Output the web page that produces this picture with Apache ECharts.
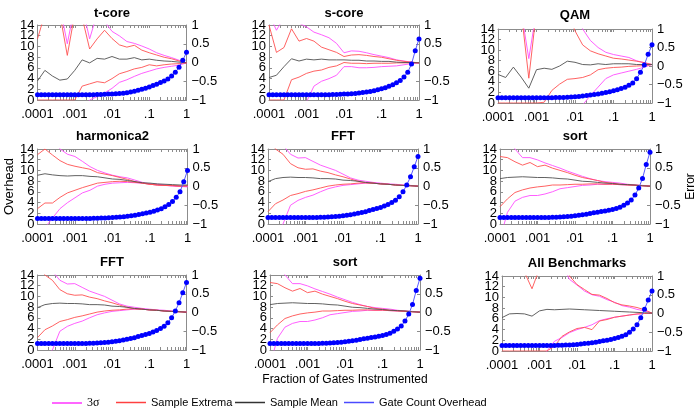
<!DOCTYPE html>
<html><head><meta charset="utf-8">
<script src="https://cdn.jsdelivr.net/npm/echarts@6/dist/echarts.min.js"></script>
<style>html,body{margin:0;padding:0;background:#fff}#c{width:695px;height:410px}</style>
</head><body><div id="c"></div><script>
// ---- x positions (fraction of gates instrumented) ----
const fractions41 = [0.0001,0.000126,0.000158,0.0002,0.000251,0.000316,0.000398,0.000501,0.000631,0.000794,
  0.001,0.00126,0.00158,0.002,0.00251,0.00316,0.00398,0.00501,0.00631,0.00794,
  0.01,0.0126,0.0158,0.02,0.0251,0.0316,0.0398,0.0501,0.0631,0.0794,
  0.1,0.126,0.158,0.2,0.251,0.316,0.398,0.501,0.631,0.794,1];
const fractions21 = [0.0001,0.000158,0.000251,0.000398,0.000631,0.001,0.00158,0.00251,0.00398,0.00631,
  0.01,0.0158,0.0251,0.0398,0.0631,0.1,0.158,0.251,0.398,0.631,1];
const xMajorTicks = [0.0001,0.001,0.01,0.1,1];
const xTickLabels = ['.0001','.001','.01','.1','1'];
const xTickValues = [0.0001,0.0002,0.0003,0.0004,0.0005,0.0006,0.0007,0.0008,0.0009,0.001,0.002,0.003,0.004,0.005,0.006,0.007,0.008,0.009,0.01,0.02,0.03,0.04,0.05,0.06,0.07,0.08,0.09,0.1,0.2,0.3,0.4,0.5,0.6,0.7,0.8,0.9,1];
const overheadTicksA = [0,4,8,12];
const overheadTicksB = [2,6,10,14];
const errorTicks = [-1,-0.5,0,0.5,1];

// ---- t-core ----
const tcoreOverhead = [1,1,1,1,1,1,1,1,1,1,1,1,1,1,1,1,1.05,1.05,1.08,1.1,1.12,1.15,1.2,1.28,1.37,1.48,1.62,1.8,2.0,2.2,2.45,2.7,2.95,3.25,3.55,3.9,4.5,5.2,6.1,7.4,8.9];
const tcoreMean  = [-0.49,-0.21,-0.36,-0.47,-0.44,-0.21,0.07,-0.01,0.11,0.09,0.16,0.09,0.09,0.13,0.07,0.09,0.06,0.04,0.03,0.01,-0.01];
const tcoreExtHi = [0.63,1.3,1.2,1.3,0.19,1.3,1.2,0.36,0.63,0.86,0.64,0.47,0.41,0.46,0.33,0.26,0.20,0.14,0.10,0.04,-0.01];
const tcoreExtLo = [-1,-1,-1,-1,-1,-1,-0.63,-0.57,-0.51,-0.54,-0.43,-0.30,-0.24,-0.17,-0.13,-0.06,-0.09,-0.06,-0.04,-0.03,-0.01];
const tcoreSigHi = [1.5,1.5,1.5,1.5,0.5,1.5,1.5,0.63,1.3,1.1,0.83,0.71,0.56,0.51,0.44,0.36,0.26,0.19,0.13,0.06,-0.01];
const tcoreSigLo = [-1.3,-1.3,-1.3,-1.3,-1.3,-1.3,-1.3,-1.0,-0.91,-0.81,-0.69,-0.53,-0.46,-0.37,-0.29,-0.23,-0.17,-0.13,-0.10,-0.07,-0.01];

// ---- s-core ----
const scoreOverhead = [1,1,1,1,1,1,1,1,1,1,1,1,1,1,1,1,1,1.02,1.05,1.08,1.1,1.13,1.17,1.22,1.3,1.38,1.48,1.6,1.75,1.9,2.1,2.3,2.55,2.85,3.2,3.65,4.3,5.2,6.7,9.2,11.4];
const scoreMean  = [-0.40,-0.34,-0.11,0.10,0.04,0.09,0.07,0.09,0.07,0.07,0.07,0.06,0.06,0.04,0.04,0.03,0.03,0.01,0.0,0.0,-0.01];
const scoreExtHi = [1.0,0.27,0.40,0.90,0.57,0.64,0.57,0.41,0.34,0.27,0.16,0.20,0.21,0.19,0.16,0.14,0.10,0.06,0.03,0.01,-0.01];
const scoreExtLo = [-1,-1,-1,-0.46,-0.39,-0.29,-0.23,-0.20,-0.13,-0.09,0.0,-0.02,-0.02,-0.03,-0.02,-0.02,-0.02,-0.01,-0.01,-0.01,-0.01];
const scoreSigHi = [1.3,0.86,1.2,1.1,1.05,0.95,0.81,0.74,0.66,0.51,0.26,0.31,0.30,0.26,0.21,0.17,0.13,0.07,0.04,0.01,-0.01];
const scoreSigLo = [-1.3,-1.3,-1.3,-1.3,-1.3,-1.05,-0.63,-0.50,-0.43,-0.34,-0.11,-0.11,-0.14,-0.14,-0.13,-0.11,-0.10,-0.09,-0.06,-0.03,-0.01];

// ---- QAM ----
const qamOverhead = [1,1,1,1,1,1,1,1,1,1,1,1,1,1,1,1.02,1.03,1.05,1.08,1.12,1.18,1.25,1.32,1.4,1.5,1.6,1.72,1.85,2.0,2.15,2.3,2.5,2.75,3.0,3.35,3.8,4.6,5.8,7.2,9.2,11.0];
const qamMean  = [-0.23,-0.31,-0.03,-0.30,-0.60,-0.10,-0.06,-0.09,0.0,0.13,0.10,0.04,0.03,0.06,0.04,0.06,0.06,0.06,0.04,0.04,0.04];
const qamExtHi = [1.5,1.5,1.5,1.5,-0.33,1.5,1.5,1.5,1.5,1.5,0.95,0.57,0.41,0.33,0.27,0.21,0.19,0.16,0.13,0.09,0.04];
const qamExtLo = [-1,-1,-1,-1,-1,-1,-0.98,-0.66,-0.49,-0.36,-0.34,-0.31,-0.24,-0.10,-0.06,-0.04,-0.03,-0.01,0.0,0.01,0.04];
const qamSigHi = [1.5,1.5,1.5,1.5,0.2,1.5,1.5,1.5,1.5,1.5,1.5,1.0,0.69,0.5,0.37,0.31,0.27,0.23,0.14,0.09,0.04];
const qamSigLo = [-1.3,-1.3,-1.3,-1.3,-1.3,-1.3,-1.3,-1.3,-1.3,-1.3,-1.3,-1.05,-0.8,-0.57,-0.34,-0.24,-0.19,-0.14,-0.09,-0.03,0.04];

// ---- harmonica2 ----
const harmOverhead = [1.05,1.05,1.05,1.05,1.05,1.05,1.05,1.05,1.05,1.05,1.05,1.05,1.05,1.05,1.05,1.07,1.08,1.1,1.13,1.16,1.2,1.25,1.3,1.37,1.45,1.55,1.65,1.78,1.9,2.05,2.2,2.4,2.6,2.85,3.2,3.65,4.2,5.0,6.0,7.9,10.0];
const harmMean  = [0.30,0.34,0.31,0.29,0.28,0.29,0.29,0.27,0.26,0.23,0.20,0.19,0.16,0.13,0.10,0.09,0.07,0.06,0.05,0.04,0.04];
const harmExtHi = [0.85,1.0,0.84,0.69,0.59,0.54,0.50,0.46,0.37,0.33,0.29,0.24,0.19,0.13,0.09,0.06,0.04,0.03,0.03,0.01,0.02];
const harmExtLo = [-0.59,-0.44,-0.44,-0.29,-0.17,-0.10,-0.03,0.03,0.09,0.11,0.13,0.14,0.13,0.11,0.09,0.06,0.04,0.03,0.02,0.01,0.02];
const harmSigHi = [1.3,1.3,1.3,1.0,0.86,0.80,0.67,0.53,0.43,0.36,0.30,0.26,0.23,0.17,0.11,0.07,0.06,0.04,0.03,0.01,0.0];
const harmSigLo = [-1.4,-1.1,-0.84,-0.59,-0.43,-0.30,-0.17,-0.10,0.01,0.06,0.09,0.10,0.11,0.10,0.09,0.06,0.04,0.03,0.01,0.0,-0.01];

// ---- FFT ----
const fftOverhead = [1.2,1.2,1.2,1.2,1.2,1.2,1.2,1.2,1.2,1.2,1.2,1.2,1.2,1.22,1.24,1.26,1.3,1.35,1.4,1.47,1.55,1.65,1.75,1.88,2.0,2.15,2.3,2.5,2.7,2.9,3.1,3.35,3.65,4.0,4.45,5.1,6.0,7.3,8.8,10.7,12.6];
const fftMean  = [0.13,0.21,0.24,0.25,0.24,0.24,0.23,0.21,0.21,0.20,0.17,0.16,0.14,0.11,0.09,0.07,0.06,0.04,0.03,0.02,0.01];
const fftExtHi = [1.3,1.0,0.86,0.61,0.50,0.46,0.47,0.41,0.37,0.31,0.26,0.20,0.14,0.10,0.09,0.07,0.06,0.04,0.03,0.02,0.01];
const fftExtLo = [-0.67,-0.46,-0.36,-0.24,-0.19,-0.13,-0.09,-0.04,0.01,0.04,0.06,0.07,0.09,0.10,0.09,0.07,0.06,0.04,0.03,0.02,0.01];
const fftSigHi = [1.3,1.3,1.1,0.86,0.76,0.77,0.67,0.57,0.50,0.43,0.33,0.23,0.17,0.14,0.11,0.09,0.07,0.06,0.04,0.03,0.01];
const fftSigLo = [-1.4,-1.2,-1.0,-0.50,-0.37,-0.29,-0.23,-0.14,-0.06,-0.01,0.03,0.05,0.07,0.09,0.09,0.07,0.06,0.04,0.03,0.02,0.01];

// ---- sort ----
const sortOverhead = [1.2,1.2,1.2,1.2,1.2,1.2,1.2,1.2,1.2,1.2,1.2,1.2,1.2,1.22,1.24,1.27,1.3,1.34,1.4,1.46,1.54,1.62,1.72,1.83,1.95,2.08,2.2,2.33,2.45,2.55,2.7,2.9,3.15,3.5,3.9,4.5,5.4,6.7,8.5,11.1,13.4];
const sortMean  = [0.21,0.24,0.25,0.26,0.25,0.24,0.24,0.23,0.21,0.20,0.17,0.14,0.13,0.11,0.09,0.08,0.06,0.05,0.04,0.02,0.01];
const sortExtHi = [0.80,0.77,0.66,0.57,0.64,0.53,0.57,0.49,0.43,0.37,0.30,0.24,0.20,0.16,0.11,0.09,0.06,0.05,0.04,0.02,0.01];
const sortExtLo = [-0.54,-0.33,-0.16,-0.09,-0.04,-0.01,0.01,0.04,0.04,0.05,0.06,0.06,0.07,0.07,0.06,0.06,0.05,0.04,0.03,0.02,0.01];
const sortSigHi = [1.3,1.3,1.0,0.77,0.77,0.71,0.63,0.56,0.49,0.41,0.34,0.27,0.21,0.16,0.13,0.11,0.09,0.06,0.04,0.03,0.01];
const sortSigLo = [-1.4,-0.69,-0.39,-0.29,-0.24,-0.24,-0.20,-0.14,-0.06,-0.03,0.0,0.03,0.04,0.06,0.06,0.06,0.05,0.04,0.03,0.02,0.01];

// ---- All Benchmarks ----
const allOverhead = [1.05,1.05,1.05,1.05,1.05,1.05,1.05,1.05,1.05,1.05,1.05,1.05,1.05,1.05,1.05,1.07,1.09,1.11,1.14,1.18,1.23,1.3,1.38,1.46,1.55,1.65,1.77,1.9,2.03,2.17,2.32,2.5,2.75,3.05,3.5,4.1,4.9,6.2,7.8,9.5,11.2];
const allMean  = [-0.11,-0.01,0.0,-0.01,-0.07,0.07,0.11,0.10,0.11,0.12,0.11,0.10,0.09,0.08,0.07,0.06,0.05,0.04,0.03,0.02,0.01];
const allExtHi = [1.5,1.5,1.5,1.1,0.66,1.2,1.5,1.5,1.5,1.0,0.77,0.64,0.51,0.49,0.40,0.29,0.23,0.20,0.16,0.10,0.01];
const allExtLo = [-1,-1,-1,-1,-1,-1,-1,-0.87,-0.61,-0.49,-0.40,-0.37,-0.43,-0.20,-0.16,-0.10,-0.07,-0.04,-0.01,0.0,0.01];
const allSigHi = [1.3,1.3,1.3,1.3,1.3,1.3,1.3,1.3,1.3,0.91,0.76,0.60,0.50,0.46,0.37,0.30,0.21,0.17,0.11,0.07,0.01];
const allSigLo = [-1.3,-1.3,-1.3,-1.3,-1.3,-1.3,-1.0,-0.74,-0.64,-0.51,-0.43,-0.37,-0.30,-0.19,-0.14,-0.10,-0.07,-0.04,-0.02,0.0,0.01];

// ---- layout ----
const FONT = '"Liberation Sans", Arial, Helvetica, sans-serif';
const AX = '#8c8c8c';
const C_SIG = '#ff4dff', C_EXT = '#ff5050', C_MEAN = '#505050', C_DOT = '#0000ff', C_OVL = '#5a5aff';
const panels = [
  {title:'t-core', o:tcoreOverhead, m:tcoreMean, eh:tcoreExtHi, el:tcoreExtLo, sh:tcoreSigHi, sl:tcoreSigLo, g:{left:37.5, top:25, width:149, height:75}, ty:13},
  {title:'s-core', o:scoreOverhead, m:scoreMean, eh:scoreExtHi, el:scoreExtLo, sh:scoreSigHi, sl:scoreSigLo, g:{left:269, top:25, width:150, height:75}, ty:13},
  {title:'QAM', o:qamOverhead, m:qamMean, eh:qamExtHi, el:qamExtLo, sh:qamSigHi, sl:qamSigLo, g:{left:498, top:29, width:154, height:74}, ty:15.5},
  {title:'harmonica2', o:harmOverhead, m:harmMean, eh:harmExtHi, el:harmExtLo, sh:harmSigHi, sl:harmSigLo, g:{left:37.5, top:149, width:150, height:75}, ty:136.5},
  {title:'FFT', o:fftOverhead, m:fftMean, eh:fftExtHi, el:fftExtLo, sh:fftSigHi, sl:fftSigLo, g:{left:268, top:149, width:150, height:75}, ty:136.5},
  {title:'sort', o:sortOverhead, m:sortMean, eh:sortExtHi, el:sortExtLo, sh:sortSigHi, sl:sortSigLo, g:{left:500, top:149, width:150, height:75}, ty:136.5},
  {title:'FFT', o:fftOverhead, m:fftMean, eh:fftExtHi, el:fftExtLo, sh:fftSigHi, sl:fftSigLo, g:{left:37.5, top:275, width:149, height:75}, ty:262.5},
  {title:'sort', o:sortOverhead, m:sortMean, eh:sortExtHi, el:sortExtLo, sh:sortSigHi, sl:sortSigLo, g:{left:270, top:275, width:150, height:75}, ty:262.5},
  {title:'All Benchmarks', o:allOverhead, m:allMean, eh:allExtHi, el:allExtLo, sh:allSigHi, sl:allSigLo, g:{left:502, top:276, width:150, height:75}, ty:263}
];

function fmtX(v){
  for (let i=0;i<xMajorTicks.length;i++){
    if (Math.abs(Math.log10(xMajorTicks[i]) - Math.log10(v)) < 0.01) return xTickLabels[i];
  }
  return '';
}
function fmtErr(v){
  if (Math.abs(v) < 1e-9) return '0';
  return (v < 0 ? '\u2212' : '') + String(Math.abs(v));
}

const grids=[], xAxes=[], yAxes=[], series=[], titles=[];
panels.forEach((p,i)=>{
  grids.push(Object.assign({containLabel:false, outerBoundsMode:'none'}, p.g));
  const axisLine = {show:true, onZero:false, lineStyle:{color:AX, width:1}};
  xAxes.push({type:'log', logBase:10, gridIndex:i, min:0.0001, max:1, position:'bottom',
    axisLine:axisLine,
    axisTick:{show:true, inside:true, length:3, customValues:xTickValues, lineStyle:{color:AX}},
    axisLabel:{show:true, color:'#000', fontSize:13, fontFamily:FONT, margin:8, formatter:fmtX, hideOverlap:false, showMinLabel:true, showMaxLabel:true},
    splitLine:{show:false}, minorTick:{show:false},
    name: i===7 ? 'Fraction of Gates Instrumented' : '',
    nameLocation:'middle', nameGap:24,
    nameTextStyle:{fontSize:12, fontFamily:FONT, color:'#000'}
  });
  xAxes.push({type:'log', logBase:10, gridIndex:i, min:0.0001, max:1, position:'top',
    axisLine:axisLine,
    axisTick:{show:true, inside:true, length:3, customValues:xTickValues, lineStyle:{color:AX}},
    axisLabel:{show:false}, splitLine:{show:false}, minorTick:{show:false}
  });
  // overhead axis (left): ticks every 2, labels 0,4,8,12
  yAxes.push({type:'value', gridIndex:i, min:0, max:14, interval:2, position:'left', offset:0,
    axisLine:axisLine,
    axisTick:{show:true, inside:true, length:3, lineStyle:{color:AX}},
    axisLabel:{color:'#000', fontSize:13, fontFamily:FONT, margin:3, hideOverlap:false,
      customValues:overheadTicksA, showMinLabel:true, showMaxLabel:true},
    splitLine:{show:false},
    name: i===3 ? 'Overhead' : '', nameLocation:'middle', nameGap:21,
    nameTextStyle:{fontSize:13, fontFamily:FONT, color:'#000'}
  });
  // error axis (right)
  yAxes.push({type:'value', gridIndex:i, min:-1, max:1, interval:0.5, position:'right',
    axisLine:axisLine,
    axisTick:{show:true, inside:true, length:3, lineStyle:{color:AX}},
    axisLabel:{color:'#000', fontSize:13, fontFamily:FONT, margin:5, formatter:fmtErr, hideOverlap:false,
      customValues:errorTicks, showMinLabel:true, showMaxLabel:true},
    splitLine:{show:false},
    name: i===5 ? 'Error' : '', nameLocation:'middle', nameGap:34, nameRotate:90,
    nameTextStyle:{fontSize:12, fontFamily:FONT, color:'#000'}
  });
  // overhead axis companion (left): labels 2,6,10,14
  yAxes.push({type:'value', gridIndex:i, min:0, max:14, interval:2, position:'left', offset:0,
    axisLine:{show:false}, axisTick:{show:false}, splitLine:{show:false},
    axisLabel:{color:'#000', fontSize:13, fontFamily:FONT, margin:3, hideOverlap:false,
      customValues:overheadTicksB, showMinLabel:true, showMaxLabel:true}
  });
  const cx = p.g.left + p.g.width/2;
  titles.push({text:p.title, left:cx, top:p.ty, textAlign:'center', textVerticalAlign:'middle', padding:0,
    textStyle:{fontSize:13, fontWeight:'bold', fontFamily:FONT, color:'#000'}});

  const errLine = (name, arr, color, z) => ({
    type:'line', name:name, xAxisIndex:2*i, yAxisIndex:3*i+1,
    data: fractions21.map((f,j)=>[f, arr[j]]),
    symbol:'none', showSymbol:false, clip:true, z:z,
    lineStyle:{color:color, width:0.9}, itemStyle:{color:color},
    emphasis:{disabled:true}, animation:false
  });
  series.push(errLine('3σ', p.sh, C_SIG, 2));
  series.push(errLine('3σ', p.sl, C_SIG, 2));
  series.push(errLine('Sample Extrema', p.eh, C_EXT, 3));
  series.push(errLine('Sample Extrema', p.el, C_EXT, 3));
  series.push(errLine('Sample Mean', p.m, C_MEAN, 4));
  series.push({
    type:'line', name:'Gate Count Overhead', xAxisIndex:2*i, yAxisIndex:3*i,
    data: fractions41.map((f,j)=>[f, p.o[j]]),
    symbol:'circle', symbolSize:5, showSymbol:true, clip:true, z:5,
    lineStyle:{color:C_OVL, width:1}, itemStyle:{color:C_DOT},
    emphasis:{disabled:true}, animation:false
  });
});

const LEG_FONT = '"Liberation Sans", Arial, sans-serif';
const legendBase = {orient:'horizontal', top:397, padding:0, itemWidth:30, itemHeight:1.5, selectedMode:false,
  textStyle:{fontSize:11, fontFamily:LEG_FONT, color:'#000'}};
const legends = [
  Object.assign({}, legendBase, {left:52, data:[{name:'3σ', icon:'rect', itemStyle:{color:'#ff33ff'}}],
    textStyle:{fontSize:12, fontFamily:'"Liberation Serif", "Times New Roman", serif', color:'#000'}}),
  Object.assign({}, legendBase, {left:116, data:[{name:'Sample Extrema', icon:'rect', itemStyle:{color:'#ff4040'}}]}),
  Object.assign({}, legendBase, {left:235, data:[{name:'Sample Mean', icon:'rect', itemStyle:{color:'#333333'}}]}),
  Object.assign({}, legendBase, {left:344, data:[{name:'Gate Count Overhead', icon:'rect', itemStyle:{color:'#4a4aff'}}]})
];

const chart = echarts.init(document.getElementById('c'), null, {renderer:'canvas'});
chart.setOption({
  animation:false,
  backgroundColor:'#fff',
  title:titles,
  legend:legends,
  grid:grids,
  xAxis:xAxes,
  yAxis:yAxes,
  series:series
});
</script></body></html>
